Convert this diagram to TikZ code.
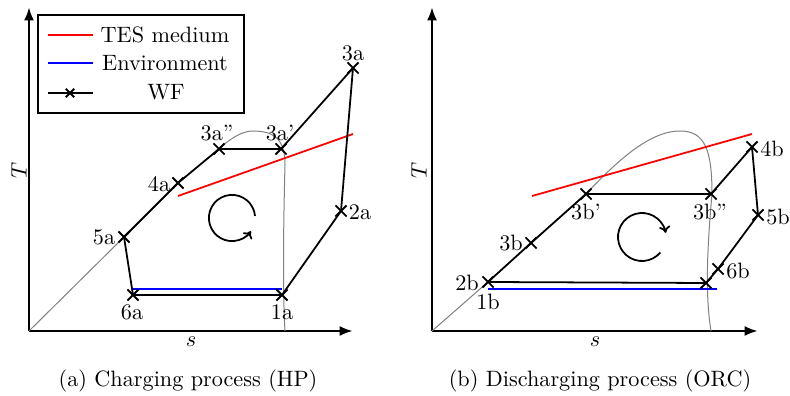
\documentclass[tikz,border=0pt]{standalone}
\usetikzlibrary{arrows.meta,shapes.misc}
\tikzset{
  wf/.style={thick, line join=round},
  xmk/.style={cross out, draw, thick, minimum size=4.2pt, inner sep=0pt},
  axis/.style={line width=1.2pt, -{Latex[length=6pt,width=4.5pt]}},
  dome/.style={gray, line width=0.45pt},
  tes/.style={red, thick},
  env/.style={blue, thick},
  lbl/.style={inner sep=0pt},
  cyc/.style={thick, -{To[length=3pt,width=5pt]}},
  legbox/.style={draw, line width=0.5pt}
}
\begin{document}
\begin{tikzpicture}[x=0.45pt,y=-0.45pt]
\useasboundingbox (0,0) rectangle (790,396);

% ================= (a) Charging (HP) =================
\coordinate (Oa) at (29,331);
\coordinate (Ya) at (29,7);
\coordinate (Xa) at (353,331);
\draw[axis] (Oa) -- (Ya);
\draw[axis] (Oa) -- (Xa);
\node[rotate=90] (Ta) at (19,170) {$T$};
\node (sa) at (191,342) {$s$};
\node (capa) at (188,381) {(a) Charging process (HP)};

\coordinate (p1a) at (282,295);
\coordinate (p2a) at (341,211);
\coordinate (p3a) at (353,68);
\coordinate (p3ap) at (281,149);
\coordinate (p3app) at (219,149);
\coordinate (p4a) at (178,183);
\coordinate (p5a) at (124,237);
\coordinate (p6a) at (133,295);

% saturation dome
\draw[dome] (Oa) -- (p5a) -- (p4a) -- (p3app)
  .. controls (232,137) and (243,131) .. (253,131)
  .. controls (275,131) and (285,140) .. (285,165)
  .. controls (283,240) and (283,300) .. (285,331);

% TES and environment
\coordinate (ta1) at (178,196);
\coordinate (ta2) at (353,134);
\draw[tes] (ta1) -- (ta2);
\coordinate (ea1) at (133,289);
\coordinate (ea2) at (282,289);
\draw[env] (ea1) -- (ea2);

% WF cycle
\draw[wf] (p1a) -- (p2a) -- (p3a) -- (p3ap) -- (p3app) -- (p4a) -- (p5a) -- (p6a) -- cycle;
\foreach \p in {1a,2a,3a,3ap,3app,4a,5a,6a}
  \node[xmk] (m\p) at (p\p) {};

\node[lbl] (l1a) at (282,312) {1a};
\node[lbl] (l2a) at (360,212) {2a};
\node[lbl] (l3a) at (353,53) {3a};
\node[lbl] (l3ap) at (280,133) {3a'};
\node[lbl] (l3app) at (217,133) {3a''};
\node[lbl] (l4a) at (159,184) {4a};
\node[lbl] (l5a) at (104,237) {5a};
\node[lbl] (l6a) at (132,312) {6a};

\coordinate (ca) at (232,218);
\draw[cyc] ([shift={(5:10.4pt)}]ca) arc[start angle=5, end angle=325, radius=10.4pt];

% legend
\draw[legbox] (38,15) rectangle (244,113);
\coordinate (lg1a) at (48,35);  \coordinate (lg1b) at (93,35);
\coordinate (lg2a) at (48,63);  \coordinate (lg2b) at (93,63);
\coordinate (lg3a) at (48,93);  \coordinate (lg3b) at (93,93);
\draw[tes] (lg1a) -- (lg1b);
\draw[env] (lg2a) -- (lg2b);
\draw[wf] (lg3a) -- (lg3b);
\node[xmk, minimum size=3pt] (lgx) at (70,93) {};
\node (lgt1) at (165,35) {TES medium};
\node (lgt2) at (165,63) {Environment};
\node (lgt3) at (166,92) {WF};

% ================= (b) Discharging (ORC) =================
\coordinate (Ob) at (432,331);
\coordinate (Yb) at (432,7);
\coordinate (Xb) at (758,331);
\draw[axis] (Ob) -- (Yb);
\draw[axis] (Ob) -- (Xb);
\node[rotate=90] (Tb) at (419,170) {$T$};
\node (sb) at (595,342) {$s$};
\node (capb) at (600,381) {(b) Discharging process (ORC)};

\coordinate (p2b) at (488,282);
\coordinate (p3b) at (531,243);
\coordinate (p3bp) at (586,194);
\coordinate (p3bpp) at (711,194);
\coordinate (p4b) at (752,147);
\coordinate (p5b) at (758,215);
\coordinate (p6b) at (718,269);
\coordinate (p7b) at (706,283);

% saturation dome
\draw[dome] (Ob) -- (p2b) -- (p3b) -- (p3bp)
  .. controls (618,160) and (650,131) .. (680,131)
  .. controls (705,131) and (712,150) .. (712,194)
  .. controls (706,260) and (706,300) .. (711,331);

\coordinate (tb1) at (532,196);
\coordinate (tb2) at (752,134);
\draw[tes] (tb1) -- (tb2);
\coordinate (eb1) at (488,289);
\coordinate (eb2) at (717,289);
\draw[env] (eb1) -- (eb2);

\draw[wf] (p2b) -- (p3b) -- (p3bp) -- (p3bpp) -- (p4b) -- (p5b) -- (p6b) -- (p7b) -- cycle;
\foreach \p in {2b,3b,3bp,3bpp,4b,5b,6b,7b}
  \node[xmk] (m\p) at (p\p) {};

\node[lbl] (l2b) at (467,283) {2b};
\node[lbl] (l1b) at (488,302) {1b};
\node[lbl] (l3b) at (511,243) {3b};
\node[lbl] (l3bp) at (586,212) {3b'};
\node[lbl] (l3bpp) at (710,212) {3b''};
\node[lbl] (l4b) at (772,149) {4b};
\node[lbl] (l5b) at (778,217) {5b};
\node[lbl] (l6b) at (738,271) {6b};

\coordinate (cb) at (642,237);
\draw[cyc] ([shift={(-40:10.8pt)}]cb) arc[start angle=-40, end angle=-350, radius=10.8pt];
\end{tikzpicture}
\end{document}
